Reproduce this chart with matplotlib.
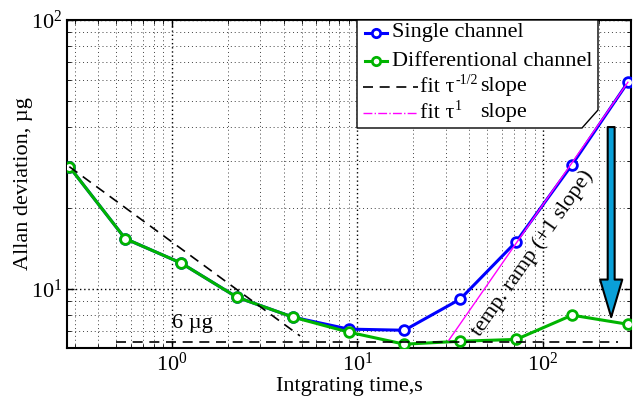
import matplotlib
matplotlib.use('Agg')
import matplotlib.pyplot as plt
from matplotlib.patches import Polygon
from matplotlib.lines import Line2D
from matplotlib.ticker import NullFormatter

plt.rcParams['font.family'] = ['Liberation Serif', 'DejaVu Serif']
plt.rcParams['mathtext.fontset'] = 'stix'

# Allan deviation data
tau = [0.28, 0.56, 1.12, 2.24, 4.48, 8.96, 17.9, 35.8, 71.7, 143.4, 286.7]
single = [28.5, 15.4, 12.5, 9.33, 7.87, 7.1, 7.03, 9.18, 15.0, 29.0, 58.7]
diff = [28.5, 15.4, 12.5, 9.33, 7.87, 6.92, 6.24, 6.40, 6.50, 8.0, 7.40]

# fit lines (end points)
fit_half_tau = [0.28, 4.9]
fit_half = [28.5, 6.7]
fit_one_tau = [31.1, 286.7]
fit_one = [6.46, 58.7]
floor_tau = [0.5, 254]
floor_val = [6.35, 6.35]

BLUE = '#0000ff'
GREEN = '#00b400'
MAGENTA = '#ff00ff'
ARROW = '#0aa0d8'
W, H = 637, 399


def px(x, y):
    # pixel position -> figure fraction
    return (x / W, 1 - y / H)


fig = plt.figure(figsize=(W / 100, H / 100), dpi=100)
ax = fig.add_axes([67 / W, 1 - 348 / H, 564 / W, 328 / H])
ax.set_xscale('log')
ax.set_yscale('log')
ax.set_xlim(0.272, 298)
ax.set_ylim(6.04, 100)

ax.plot(tau, single, '-o', color=BLUE, lw=2.2, ms=7, mew=2, mfc='white', zorder=3)
ax.plot(tau, diff, '-o', color=GREEN, lw=2.2, ms=7, mew=2, mfc='white', zorder=4)
ax.plot(fit_half_tau, fit_half, '--', color='k', lw=1.2, dashes=(6, 4), zorder=5)
ax.plot(floor_tau, floor_val, '--', color='k', lw=1.2, dashes=(6, 4), zorder=5)
ax.plot(fit_one_tau, fit_one, '-', color=MAGENTA, lw=1.0, zorder=4.5)

ax.text(1.0, 7.45, '6 µg', fontsize=16, va='center', ha='left')
ax.text(88, 13.6, 'temp. ramp (+1 slope)', fontsize=16, rotation=55,
        ha='center', va='center', rotation_mode='anchor')

ax.annotate('', xy=(233, 7.87), xytext=(233, 40),
            arrowprops=dict(width=5, headwidth=16, headlength=27, fc=ARROW,
                            ec='k', lw=1.5, shrink=0), zorder=6)

ax.grid(True, which='major', ls=(0, (1, 2)), color='k', lw=1.0)
ax.grid(True, which='minor', ls=(0, (1, 3)), color='k', lw=0.7, alpha=0.75)
ax.tick_params(which='both', direction='in', top=True, right=True)
ax.tick_params(which='major', length=5, labelsize=16, width=1)
ax.tick_params(which='minor', length=3)
ax.xaxis.set_minor_formatter(NullFormatter())
ax.yaxis.set_minor_formatter(NullFormatter())
for s in ax.spines.values():
    s.set_linewidth(1.5)

ax.set_xlabel('Intgrating time,s', fontsize=16, labelpad=1)
ax.set_ylabel('Allan deviation, µg', fontsize=16)
ax.yaxis.set_label_coords(-0.060, 0.5)

# legend drawn by hand (chamfered box like the original)
box = Polygon([px(357, 20), px(598, 20), px(598, 110), px(582, 128), px(357, 128)],
              closed=True, transform=fig.transFigure, fc='white', ec='k', lw=1)
fig.add_artist(box)

rows = [33, 61, 87, 113]
for y, c in zip(rows[:2], [BLUE, GREEN]):
    fig.add_artist(Line2D([365 / W, 387 / W], [px(0, y)[1]] * 2, color=c, lw=2.2,
                          transform=fig.transFigure))
    fig.add_artist(Line2D([376 / W], [px(0, y)[1]], marker='o', color=c, ms=6, mew=2,
                          mfc='white', transform=fig.transFigure))
fig.add_artist(Line2D([363 / W, 418 / W], [px(0, rows[2])[1]] * 2, color='k', lw=1.2,
                      ls='--', dashes=(6, 4), transform=fig.transFigure))
fig.add_artist(Line2D([363 / W, 418 / W], [px(0, rows[3])[1]] * 2, color=MAGENTA, lw=1.0,
                      ls='-.', transform=fig.transFigure))

fig.text(*px(392, rows[0]), 'Single channel', fontsize=16, va='center')
fig.text(*px(392, rows[1]), 'Differentional channel', fontsize=16, va='center')
for y, sup in zip(rows[2:], ['-1/2', '1']):
    fig.text(*px(420, y), 'fit τ', fontsize=16, va='center')
    fig.text(*px(455, y - 7), sup, fontsize=10, va='center')
    fig.text(*px(480, y), 'slope', fontsize=16, va='center')

fig.savefig('out.png', dpi=100)
